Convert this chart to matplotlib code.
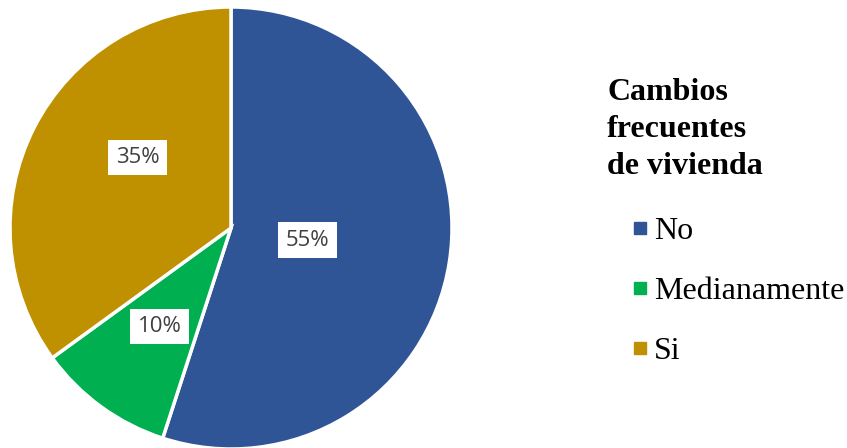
import matplotlib
matplotlib.use("Agg")
import matplotlib.pyplot as plt
from matplotlib.lines import Line2D
import numpy as np

categories = ["No", "Medianamente", "Si"]
values = [55, 10, 35]
colors = ["#2F5597", "#00B050", "#BF9000"]
legend_title = "Cambios\nfrecuentes\nde vivienda"

# label placement (angle offset in degrees, radial distance)
label_offsets = [(0, 0.35), (0, 0.55), (-10, 0.53)]

W, H = 847, 448
fig = plt.figure(figsize=(W / 100, H / 100), dpi=100)
cx, cy, r = 231, 228, 221
ax = fig.add_axes([(cx - r) / W, (H - cy - r) / H, 2 * r / W, 2 * r / H])
wedges, _ = ax.pie(values, colors=colors, startangle=90, counterclock=False,
                   wedgeprops=dict(edgecolor="white", linewidth=2.5))
ax.set_xlim(-1, 1)
ax.set_ylim(-1, 1)
ax.set_aspect("equal")

for w, v, (doff, dist) in zip(wedges, values, label_offsets):
    th = np.deg2rad((w.theta1 + w.theta2) / 2 + doff)
    ax.text(dist * np.cos(th), dist * np.sin(th), f"{v}%", ha="center", va="center",
            fontsize=16, family="Open Sans", color="#404040",
            bbox=dict(boxstyle="square,pad=0.33", fc="white", ec="none"))

fig.text(607 / W, 1 - 78 / H, legend_title, ha="left", va="top",
         fontsize=23, fontweight="bold", family="Liberation Serif", linespacing=1.36)

handles = [Line2D([], [], marker="s", linestyle="none", markersize=8,
                  markerfacecolor=c, markeredgecolor=c) for c in colors]
fig.legend(handles, categories, loc="upper left", bbox_to_anchor=(624 / W, 1 - 217 / H),
           frameon=False, prop=dict(family="Liberation Serif", size=23),
           handletextpad=-0.05, labelspacing=0.95, handlelength=1.0, borderpad=0, borderaxespad=0)

fig.savefig("out.png", dpi=100)
